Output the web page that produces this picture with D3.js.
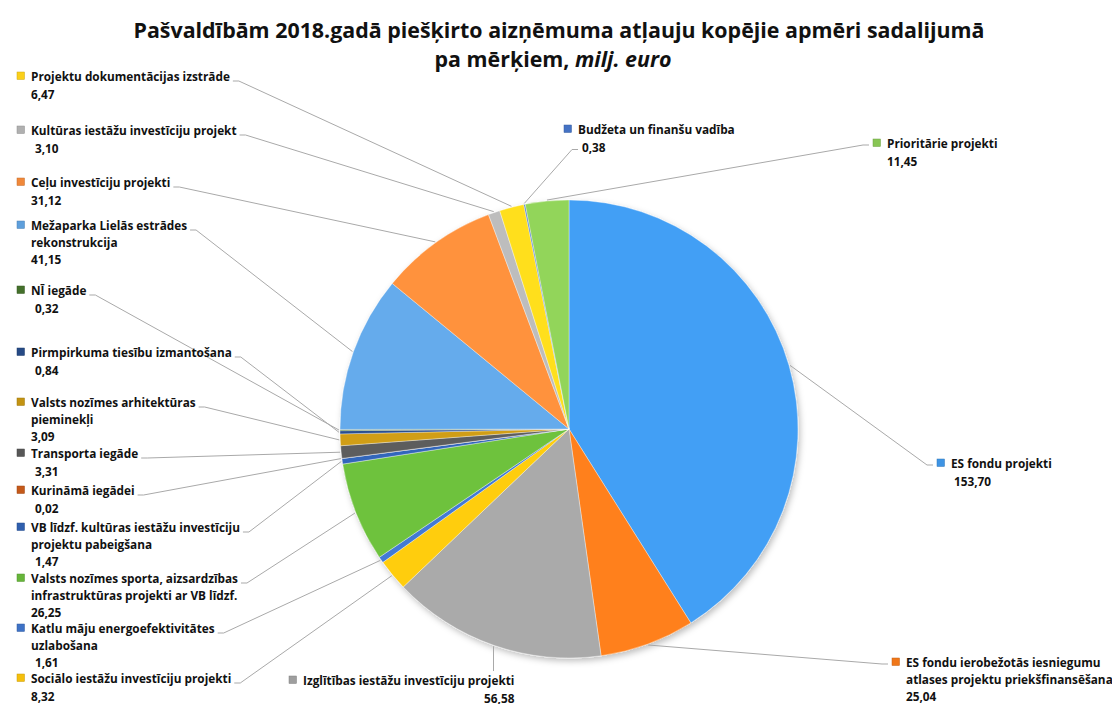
<!DOCTYPE html>
<html><head><meta charset="utf-8">
<script src="https://cdn.jsdelivr.net/npm/d3@7"></script>
<style>
body{margin:0;background:#fff}
text{font-family:"Open Sans", Lato, sans-serif;font-weight:bold;fill:#111;white-space:pre}
</style>
</head><body>
<svg id="c" width="1112" height="704"></svg>
<script>
// ---- data ----
const categories = [
  "ES fondu projekti",
  "ES fondu ierobežotās iesniegumu\natlases projektu priekšfinansēšana",
  "Izglītības iestāžu investīciju projekti",
  "Sociālo iestāžu investīciju projekti",
  "Katlu māju energoefektivitātes\nuzlabošana",
  "Valsts nozīmes sporta, aizsardzības\ninfrastruktūras projekti ar VB līdzf.",
  "VB līdzf. kultūras iestāžu investīciju\nprojektu pabeigšana",
  "Kurināmā iegādei",
  "Transporta iegāde",
  "Valsts nozīmes arhitektūras\npieminekļi",
  "Pirmpirkuma tiesību izmantošana",
  "NĪ iegāde",
  "Mežaparka Lielās estrādes\nrekonstrukcija",
  "Ceļu investīciju projekti",
  "Kultūras iestāžu investīciju projekt",
  "Projektu dokumentācijas izstrāde",
  "Budžeta un finanšu vadība",
  "Prioritārie projekti"
];
const values = [153.70, 25.04, 56.58, 8.32, 1.61, 26.25, 1.47, 0.02, 3.31, 3.09, 0.84, 0.32, 41.15, 31.12, 3.10, 6.47, 0.38, 11.45];
const colors = ["#3e94e4","#f07719","#9e9e9e","#f5bf0c","#3e72c6","#66b53a","#2f5fae","#c4591a","#575757","#c39312","#264a85","#44702b","#5e9fdc","#f0883a","#b0b0b0","#fbd01a","#4472c4","#88c654"];
const titleLines = ["Pašvaldībām 2018.gadā piešķirto aizņēmuma atļauju kopējie apmēri sadalijumā", "pa mērķiem, "];
const titleItalic = "milj. euro";

// ---- layout (label placement, not data) ----
const labelLayout = [
  {x:951, y:468, vi:3, mode:"sq"},
  {x:906, y:667, vi:0, mode:"sq"},
  {x:303, y:685, vi:0, mode:"top", vend:true},
  {x:31, y:683, vi:0, mode:"end"},
  {x:31, y:633, vi:4, mode:"end"},
  {x:31, y:583, vi:0, mode:"end"},
  {x:31, y:532, vi:4, mode:"end"},
  {x:31, y:495, vi:4, mode:"end"},
  {x:31, y:458, vi:4, mode:"end"},
  {x:31, y:407, vi:0, mode:"end"},
  {x:31, y:357, vi:4, mode:"end"},
  {x:31, y:295, vi:4, mode:"end"},
  {x:31, y:230, vi:0, mode:"end"},
  {x:31, y:187, vi:0, mode:"end"},
  {x:31, y:135, vi:4, mode:"end"},
  {x:31, y:81, vi:0, mode:"end"},
  {x:578, y:134, vi:4, mode:"val"},
  {x:887, y:148, vi:0, mode:"sq"}
];

const W = 1112, H = 704;
const cx = 569, cy = 429, R = 229;
const fs = 11.8, lh = 16.5;
const svg = d3.select("#c");

// title
svg.append("text").attr("x", 559).attr("y", 38).attr("text-anchor","middle")
  .style("font-size","21.4px").text(titleLines[0]);
const t2 = svg.append("text").attr("x", 553).attr("y", 67).attr("text-anchor","middle")
  .style("font-size","21.4px");
t2.append("tspan").text(titleLines[1]);
t2.append("tspan").style("font-style","italic").text(titleItalic);

// defs
const defs = svg.append("defs");
const f = defs.append("filter").attr("id","sh").attr("x","-20%").attr("y","-20%").attr("width","140%").attr("height","140%");
f.append("feDropShadow").attr("dx",2).attr("dy",3).attr("stdDeviation",3).attr("flood-color","#000").attr("flood-opacity",0.25);
colors.forEach((c,i)=>{
  const g = defs.append("radialGradient").attr("id","g"+i).attr("gradientUnits","userSpaceOnUse")
    .attr("cx",cx).attr("cy",cy).attr("r",R);
  g.append("stop").attr("offset","0%").attr("stop-color",d3.color(c).darker(0.08));
  g.append("stop").attr("offset","94%").attr("stop-color",c);
  g.append("stop").attr("offset","100%").attr("stop-color",d3.color(c).brighter(0.2));
});

const pie = d3.pie().sort(null).value(d=>d)(values);
const arc = d3.arc().innerRadius(0).outerRadius(R);
const gp = svg.append("g").attr("transform",`translate(${cx},${cy})`).attr("filter","url(#sh)");
gp.selectAll("path").data(pie).join("path")
  .attr("d",arc).attr("fill",(d,i)=>`url(#g${i})`)
  .attr("stroke","#ffffff").attr("stroke-opacity",0.45).attr("stroke-width",0.8);

const fmt = v => d3.format(".2f")(v).replace(".", ",");

// labels
const gline = svg.append("g");
const gl = svg.append("g");
pie.forEach((d,i)=>{
  const L = labelLayout[i];
  const lines = categories[i].split("\n");
  const g = gl.append("g");
  g.append("rect").attr("x", L.x-14).attr("y", L.y-9).attr("width",7.5).attr("height",7.5)
    .attr("fill", colors[i]).attr("stroke", d3.color(colors[i]).darker(0.6)).attr("stroke-width",0.5);
  let w0 = 0;
  lines.forEach((s,k)=>{
    const t = g.append("text").attr("x",L.x).attr("y",L.y + k*lh).style("font-size",fs+"px").text(s);
    if(k===0) w0 = t.node().getComputedTextLength();
  });
  const vy = L.y + lines.length*lh + 1;
  if(L.vend){
    g.append("text").attr("x", L.x + w0).attr("y", vy).attr("text-anchor","end").style("font-size",fs+"px").text(fmt(values[i]));
  } else {
    g.append("text").attr("x", L.x + L.vi).attr("y", vy).style("font-size",fs+"px").text(fmt(values[i]));
  }
  // leader line
  const a = (d.startAngle + d.endAngle)/2;
  const px = cx + Math.sin(a)*(R+1), py = cy - Math.cos(a)*(R+1);
  let pts;
  if(L.mode==="end"){
    const sx = L.x + w0 + 3, sy = L.y;
    pts = [[sx,sy],[sx+6,sy],[px,py]];
  } else if(L.mode==="sq"){
    const sx = L.x - 18, sy = L.y - 3;
    pts = [[sx,sy],[sx-6,sy],[px,py]];
  } else if(L.mode==="val"){
    const sx = L.x + L.vi - 4, sy = vy - 2;
    pts = [[sx,sy],[sx-6,sy],[px,py]];
  } else {
    pts = [[px, L.y - 14],[px,py]];
  }
  gline.append("path").attr("d", d3.line()(pts)).attr("fill","none")
    .attr("stroke","#a9a9a9").attr("stroke-width",1);
});
</script>
</body></html>
